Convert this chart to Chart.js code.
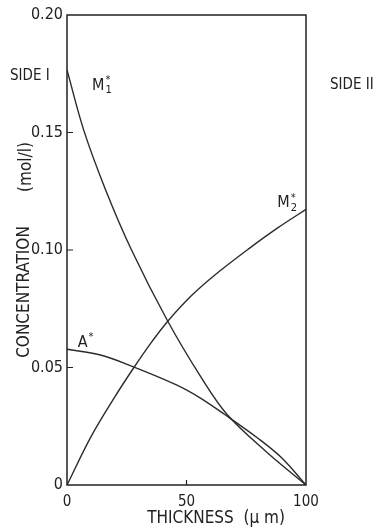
<!DOCTYPE html>
<html>
<head>
<meta charset="utf-8">
<script src="https://cdn.jsdelivr.net/npm/chart.js@4.4.1/dist/chart.umd.min.js"></script>
<style>
  body { margin: 0; background: #fff; }
  canvas { display: block; }
</style>
</head>
<body>
<canvas id="chart" width="384" height="530"></canvas>
<script>
// thickness (um) and concentration (mol/l)
const m1Thickness = [0, 7, 16, 27, 42, 56, 67, 83, 100];
const m1Conc = [0.1766, 0.151, 0.126, 0.100, 0.070, 0.046, 0.030, 0.0145, 0];

const m2Thickness = [0, 10, 20, 28, 35, 42, 52, 62, 76, 88, 100];
const m2Conc = [0, 0.0205, 0.0375, 0.050, 0.0603, 0.0695, 0.0805, 0.0895, 0.1005, 0.1093, 0.1173];

const aThickness = [0, 14, 27, 46, 56, 66, 80, 90, 100];
const aConc = [0.0578, 0.0553, 0.0506, 0.0425, 0.0369, 0.030, 0.0198, 0.0114, 0];

const xTicks = [0, 50, 100];
const yTicks = [0, 0.05, 0.10, 0.15, 0.20];

const FONT = "'Liberation Sans Narrow', 'DejaVu Sans Condensed', 'Liberation Sans', sans-serif";
const INK = '#222';

function points(xs, ys) {
    return xs.map((x, i) => ({ x: x, y: ys[i] }));
}

function curve(xs, ys) {
    return {
        data: points(xs, ys),
        borderColor: '#2b2b2b',
        borderWidth: 1.4,
        pointRadius: 0,
        fill: false,
        tension: 0.35
    };
}

// M with subscript and asterisk
function speciesLabel(ctx, txt, sub, x, y) {
    ctx.font = '16px ' + FONT;
    ctx.textAlign = 'left';
    ctx.textBaseline = 'middle';
    ctx.fillText(txt, x, y);
    const w = ctx.measureText(txt).width;
    ctx.font = '11px ' + FONT;
    if (sub) ctx.fillText(sub, x + w + 1, y + 5);
    ctx.fillText('*', x + w + 1, y - 5);
}

const decorations = {
    id: 'decorations',
    afterDraw(chart) {
        const ctx = chart.ctx;
        const a = chart.chartArea;
        const xs = chart.scales.x;
        const ys = chart.scales.y;
        ctx.save();
        ctx.strokeStyle = INK;
        ctx.fillStyle = INK;
        ctx.lineWidth = 1.5;
        ctx.strokeRect(a.left, a.top, a.right - a.left, a.bottom - a.top);

        // inward tick marks
        ctx.lineWidth = 1.2;
        ctx.beginPath();
        [0.05, 0.10, 0.15].forEach(v => {
            const py = ys.getPixelForValue(v);
            ctx.moveTo(a.left, py);
            ctx.lineTo(a.left + 6, py);
        });
        const px = xs.getPixelForValue(50);
        ctx.moveTo(px, a.bottom);
        ctx.lineTo(px, a.bottom - 5);
        ctx.stroke();

        // axis titles
        ctx.font = '17px ' + FONT;
        ctx.textBaseline = 'middle';
        ctx.textAlign = 'center';
        ctx.fillText('THICKNESS  (μ m)', 216, 519);
        ctx.save();
        ctx.translate(25, 292);
        ctx.rotate(-Math.PI / 2);
        ctx.fillText('CONCENTRATION', 0, 0);
        ctx.restore();
        ctx.save();
        ctx.translate(27, 167);
        ctx.rotate(-Math.PI / 2);
        ctx.fillText('(mol/l)', 0, 0);
        ctx.restore();

        // side labels
        ctx.font = '15px ' + FONT;
        ctx.textAlign = 'left';
        ctx.fillText('SIDE I', 10, 76);
        ctx.fillText('SIDE II', 330, 85);

        // curve labels
        speciesLabel(ctx, 'M', '1', xs.getPixelForValue(10.5), ys.getPixelForValue(0.170));
        speciesLabel(ctx, 'M', '2', xs.getPixelForValue(88), ys.getPixelForValue(0.120));
        speciesLabel(ctx, 'A', '', xs.getPixelForValue(4.5), ys.getPixelForValue(0.0606));
        ctx.restore();
    }
};

new Chart(document.getElementById('chart').getContext('2d'), {
    type: 'line',
    data: {
        datasets: [
            curve(m1Thickness, m1Conc),
            curve(m2Thickness, m2Conc),
            curve(aThickness, aConc)
        ]
    },
    options: {
        responsive: false,
        animation: false,
        layout: { padding: { top: 15, right: 78, left: 0, bottom: 0 } },
        plugins: { legend: { display: false }, tooltip: { enabled: false } },
        scales: {
            x: {
                type: 'linear',
                min: 0,
                max: 100,
                afterFit: s => { s.height = 45; },
                afterBuildTicks: s => { s.ticks = xTicks.map(v => ({ value: v })); },
                grid: { display: false, drawTicks: false },
                border: { display: false },
                ticks: { color: INK, padding: 8, font: { family: FONT, size: 15 }, maxRotation: 0 }
            },
            y: {
                type: 'linear',
                min: 0,
                max: 0.2,
                afterFit: s => { s.width = 67; },
                afterBuildTicks: s => { s.ticks = yTicks.map(v => ({ value: v })); },
                grid: { display: false, drawTicks: false },
                border: { display: false },
                ticks: {
                    color: INK,
                    padding: 4,
                    font: { family: FONT, size: 16 },
                    callback: v => v === 0 ? '0' : v.toFixed(2)
                }
            }
        }
    },
    plugins: [decorations]
});
</script>
</body>
</html>
